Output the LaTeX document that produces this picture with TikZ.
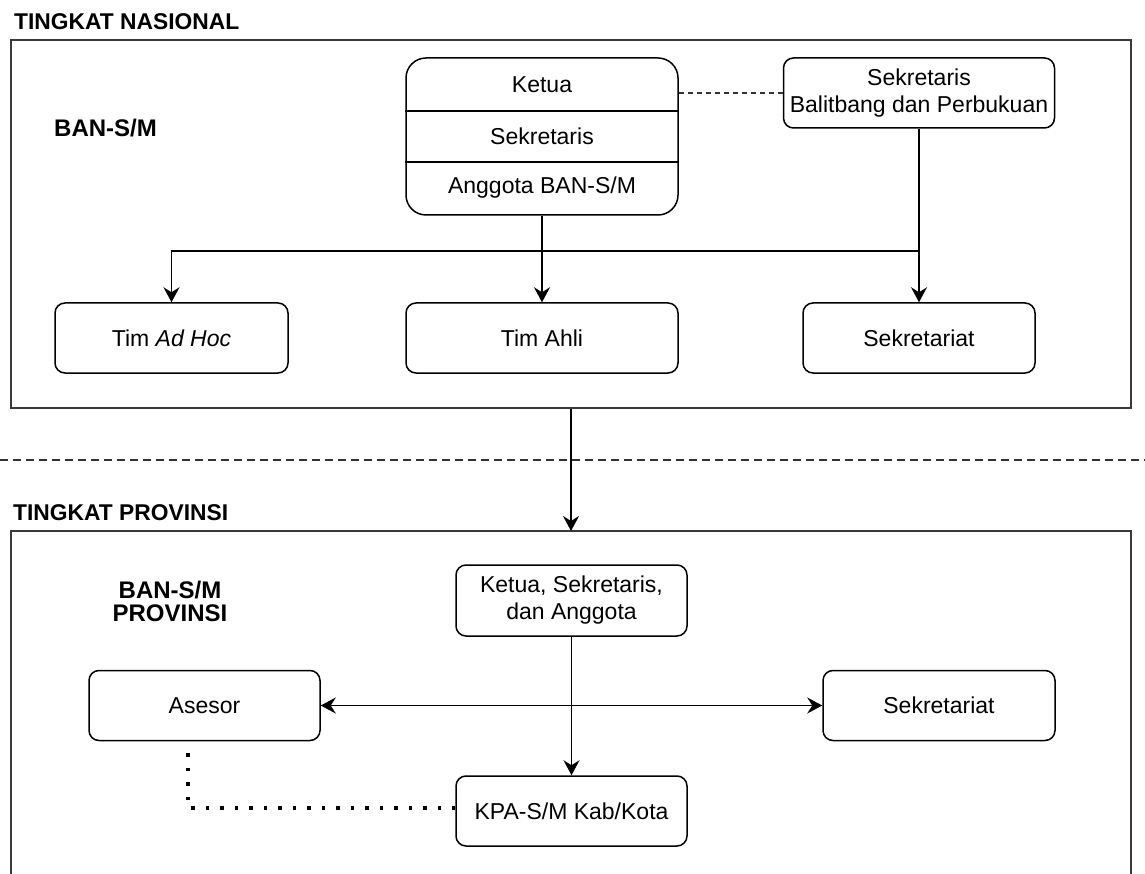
\documentclass[tikz,border=0pt]{standalone}
\usepackage{fontspec}
\setmainfont{Liberation Sans}
\usetikzlibrary{arrows.meta}
\newcommand\mybody{\fontsize{23}{27}\selectfont}
\newcommand\mytitle{\fontsize{22.8}{26}\selectfont\bfseries}
\newcommand\myban{\fontsize{24}{24}\selectfont\bfseries}
\definecolor{frame}{HTML}{3A3A3A}
\begin{document}
\begin{tikzpicture}[x=1pt,y=-1pt,
  box/.style={draw=black, line width=1.5pt, rounded corners=10pt, inner sep=0pt, align=center, font=\mybody},
  lbl/.style={inner sep=0pt, font=\mybody},
  divline/.style={draw=black, line width=1.5pt},
  conn/.style={draw=black, line width=1.6pt, -{Stealth[length=15pt,width=16pt,inset=5pt]}},
  dconn/.style={draw=black, line width=1.6pt, {Stealth[length=15pt,width=16pt,inset=5pt]}-{Stealth[length=15pt,width=16pt,inset=5pt]}},
  dashline/.style={draw=black!80, line width=1.4pt, dash pattern=on 5pt off 4pt},
  sepdash/.style={draw=black!80, line width=1.4pt, dash pattern=on 8pt off 5pt},
  dotline/.style={draw=black, line width=3.5pt, dash pattern=on 3.5pt off 11pt},
  outer/.style={draw=frame, line width=2pt, inner sep=0pt},
  title/.style={inner sep=0pt, font=\mytitle, anchor=base west},
]
\useasboundingbox (0,0) rectangle (1145,874);

% ---------- Tingkat Nasional ----------
\node[title] (tnas) at (14,30) {TINGKAT NASIONAL};
\node[outer, minimum width=1120pt, minimum height=368pt] (nas) at (571,224) {};
\node[inner sep=0pt, font=\myban, anchor=base west] (bansm) at (54,137) {BAN-S/M};

\node[box, minimum width=272pt, minimum height=157pt, rounded corners=20pt] (ban) at (542,136.5) {};
\node[lbl] (ketua) at (542,85) {Ketua};
\node[lbl] (sek) at (542,136.5) {Sekretaris};
\node[lbl] (ang) at (542,188) {Anggota BAN-S/M};
\draw[divline] ([yshift=25.5pt]ban.west) -- ([yshift=25.5pt]ban.east);
\draw[divline] ([yshift=-25.5pt]ban.west) -- ([yshift=-25.5pt]ban.east);

\node[box, minimum width=271pt, minimum height=70pt] (balit) at (919,93) {Sekretaris\\Balitbang dan Perbukuan};
\draw[dashline] (ban.east |- balit.west) -- (balit.west);

\node[box, minimum width=233pt, minimum height=70pt] (adhoc) at (171.5,338) {Tim \textit{Ad Hoc}};
\node[box, minimum width=272pt, minimum height=70pt] (ahli) at (542,338) {Tim Ahli};
\node[box, minimum width=232pt, minimum height=70pt] (sekt) at (919,338) {Sekretariat};

\coordinate (j) at (542,251);
\draw[conn] (ban.south) -- (ahli.north);
\draw[conn] (balit.south) -- (sekt.north);
\draw[conn] (sekt.north |- j) -- (adhoc.north |- j) -- (adhoc.north);

% ---------- separator ----------
\draw[sepdash] (0,460) -- (1145,460);

% ---------- Tingkat Provinsi ----------
\node[title] (tprov) at (13,520) {TINGKAT PROVINSI};
\coordinate (provtop) at (571,531);
\draw[outer] (11,876) -- (11,531) -- (1131,531) -- (1131,876);
\draw[conn] (nas.south) -- (provtop);

\node[inner sep=0pt, font=\myban, align=center] (banprov) at (170,601) {BAN-S/M\\[-1pt]PROVINSI};

\node[box, minimum width=231pt, minimum height=71pt] (kp) at (571.5,600.5) {Ketua, Sekretaris,\\dan Anggota};
\node[box, minimum width=231pt, minimum height=70pt] (ases) at (204.5,705.5) {Asesor};
\node[box, minimum width=232pt, minimum height=70pt] (sekp) at (939,705.5) {Sekretariat};
\node[box, minimum width=231pt, minimum height=70pt] (kpa) at (571.5,811) {KPA-S/M Kab/Kota};

\draw[conn] (kp.south) -- (kpa.north);
\draw[dconn] (ases.east) -- (sekp.west);
\coordinate (dotc) at (188,808);
\draw[dotline] ([yshift=-12pt]ases.south -| dotc) -- (dotc) -- (kpa.west |- dotc);
\end{tikzpicture}
\end{document}
